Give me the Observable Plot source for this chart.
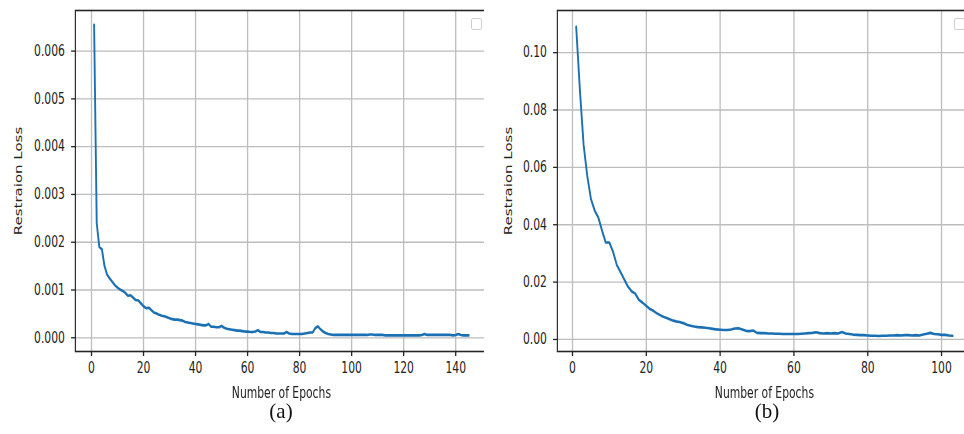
<!DOCTYPE html>
<html>
<head>
<meta charset="utf-8">
<script src="https://cdn.jsdelivr.net/npm/d3@7"></script>
<script src="https://cdn.jsdelivr.net/npm/@observablehq/plot@0.6"></script>
<style>
  html, body { margin: 0; padding: 0; background: #fff; }
  body { width: 964px; height: 434px; overflow: hidden; position: relative; }
  .panel { position: absolute; top: 0; width: 681px; height: 400px; transform: scaleX(0.72); transform-origin: 0 0; }
  .panel svg { max-width: none !important; display: block; }
  .panel svg text { font-size: 15px !important; font-family: "DejaVu Sans", sans-serif; fill: #222; }
  .cap { position: absolute; top: 401px; font-family: "Liberation Serif", "Times New Roman", serif; font-size: 21px; line-height: 21px; color: #111; width: 60px; text-align: center; }
  .leg { position: absolute; top: 18px; width: 9px; height: 10px; border: 1px solid #cfcfcf; border-radius: 2px; background: #fff; }
</style>
</head>
<body>
<div id="pa" class="panel" style="left:0px"></div>
<div id="pb" class="panel" style="left:484px"></div>
<div class="cap" style="left:251px">(a)</div>
<div class="cap" style="left:737px">(b)</div>
<div class="leg" style="left:471px"></div>
<div class="leg" style="left:954px"></div>
<script>
// ---- Data ----
const lossA = [
  0.00655, 0.0024, 0.0019, 0.00185, 0.0015, 0.00132, 0.00124, 0.00117, 0.0011, 0.00105,
  0.00101, 0.00098, 0.00094, 0.00088, 0.00089, 0.00084, 0.00079, 0.00078, 0.00072, 0.00066,
  0.00062, 0.00063, 0.00058, 0.00053, 0.00051, 0.00048, 0.00046, 0.00045, 0.00043, 0.00041,
  0.00039, 0.00038, 0.00038, 0.00037, 0.00036, 0.00033, 0.00032, 0.00031, 0.0003, 0.00029,
  0.00028, 0.00027, 0.00026, 0.00026, 0.00029, 0.00023, 0.00023, 0.00022, 0.00022, 0.00025,
  0.00021, 0.00019, 0.00018, 0.00017, 0.00016, 0.00015, 0.00015, 0.00014, 0.00013, 0.00013,
  0.00012, 0.00012, 0.00013, 0.00016, 0.00012, 0.00012, 0.00011, 0.00011, 0.0001, 0.0001,
  0.00009, 0.00009, 0.00009, 0.00009, 0.00012, 0.00009, 0.00008, 0.00008, 0.00008, 0.00008,
  0.00008, 0.00009, 0.0001, 0.00011, 0.00011, 0.0002, 0.00024, 0.00018, 0.00013, 0.0001,
  0.00008, 0.00007, 0.00006, 0.00006, 0.00006, 0.00006, 0.00006, 0.00006, 0.00006, 0.00006,
  0.00006, 0.00006, 0.00006, 0.00006, 0.00006, 0.00006, 0.00007, 0.00007, 0.00006, 0.00006,
  0.00006, 0.00006, 0.00005, 0.00005, 0.00005, 0.00005, 0.00005, 0.00005, 0.00005, 0.00005,
  0.00005, 0.00005, 0.00005, 0.00005, 0.00005, 0.00005, 0.00006, 0.00008, 0.00006, 0.00006,
  0.00006, 0.00006, 0.00006, 0.00006, 0.00006, 0.00006, 0.00006, 0.00006, 0.00005, 0.00006,
  0.00008, 0.00006, 0.00005, 0.00005, 0.00005
];
const lossB = [
  0.109, 0.087, 0.068, 0.057, 0.049, 0.045, 0.0425, 0.038, 0.0338, 0.0338,
  0.0305, 0.026, 0.0235, 0.021, 0.0185, 0.0168, 0.016, 0.0138, 0.0128, 0.0117,
  0.0106, 0.0099, 0.009, 0.0083, 0.0077, 0.0072, 0.0067, 0.0063, 0.0061, 0.0057,
  0.0051, 0.0048, 0.0045, 0.0043, 0.0042, 0.0041, 0.0039, 0.0037, 0.0035, 0.0034,
  0.0033, 0.0033, 0.0035, 0.0038, 0.0039, 0.0035, 0.003, 0.0029, 0.0031, 0.0023,
  0.0022, 0.0022, 0.0021, 0.0021, 0.002, 0.002, 0.0019, 0.0019, 0.0019, 0.0019,
  0.0019, 0.002, 0.0021, 0.0022, 0.0023, 0.0025, 0.0022, 0.0021, 0.0022, 0.0021,
  0.0022, 0.0021, 0.0026, 0.0021, 0.0019, 0.0017, 0.0016, 0.0015, 0.0015, 0.0014,
  0.0013, 0.0013, 0.0012, 0.0013, 0.0013, 0.0014, 0.0014, 0.0015, 0.0014, 0.0015,
  0.0015, 0.0014, 0.0015, 0.0014, 0.0017, 0.002, 0.0023, 0.0019, 0.0018, 0.0016,
  0.0016, 0.0014, 0.0013
];
const xTicksA = [0, 20, 40, 60, 80, 100, 120, 140];
const yTicksA = [0, 0.001, 0.002, 0.003, 0.004, 0.005, 0.006];
const xTicksB = [0, 20, 40, 60, 80, 100];
const yTicksB = [0, 0.02, 0.04, 0.06, 0.08, 0.10];
const xLabel = "Number of Epochs";
const yLabel = "Restraion Loss";

const dataA = lossA.map((v, i) => ({epoch: i + 1, loss: v}));
const dataB = lossB.map((v, i) => ({epoch: i + 1, loss: v}));

const LINE = "#1b70b4";
const GRID = "#bdbdbd";

function panel(data, xTicks, yTicks, xDomain, yDomain, fmt, marginLeft, yLabelOffset) {
  return Plot.plot({
    width: 681,
    height: 400,
    marginLeft: marginLeft,
    marginRight: 4.5,
    marginTop: 10,
    marginBottom: 49,
    style: {fontFamily: "DejaVu Sans, sans-serif", fontSize: "15px", color: "#222", background: "#fff", overflow: "visible"},
    x: {domain: xDomain},
    y: {domain: yDomain},
    marks: [
      Plot.gridX(xTicks, {stroke: GRID, strokeOpacity: 1, strokeWidth: 1.8}),
      Plot.gridY(yTicks, {stroke: GRID, strokeOpacity: 1, strokeWidth: 1.3}),
      Plot.axisY(yTicks, {tickFormat: d3.format(fmt), tickSize: 5.5, tickPadding: 9, strokeWidth: 1.3,
        label: yLabel, labelAnchor: "center", labelArrow: "none", labelOffset: yLabelOffset}),
      Plot.axisX(xTicks, {tickFormat: d => String(d), tickSize: 5, tickPadding: 6, strokeWidth: 1.8,
        label: xLabel, labelAnchor: "center", labelArrow: "none", labelOffset: 46}),
      Plot.line(data, {x: "epoch", y: "loss", stroke: LINE, strokeWidth: 2.6, strokeLinejoin: "round"}),
      Plot.frame({stroke: "#262626", strokeWidth: 1.6})
    ]
  });
}

const svgA = panel(dataA, xTicksA, yTicksA, [-6.2, 152.2], [-0.000287, 0.00685], ".3f", 104.2, 85);
const svgB = panel(dataB, xTicksB, yTicksB, [-4.1, 108.1], [-0.0042, 0.1147], ".2f", 101.4, 74);
document.getElementById("pa").appendChild(svgA);
document.getElementById("pb").appendChild(svgB);
</script>
</body>
</html>
